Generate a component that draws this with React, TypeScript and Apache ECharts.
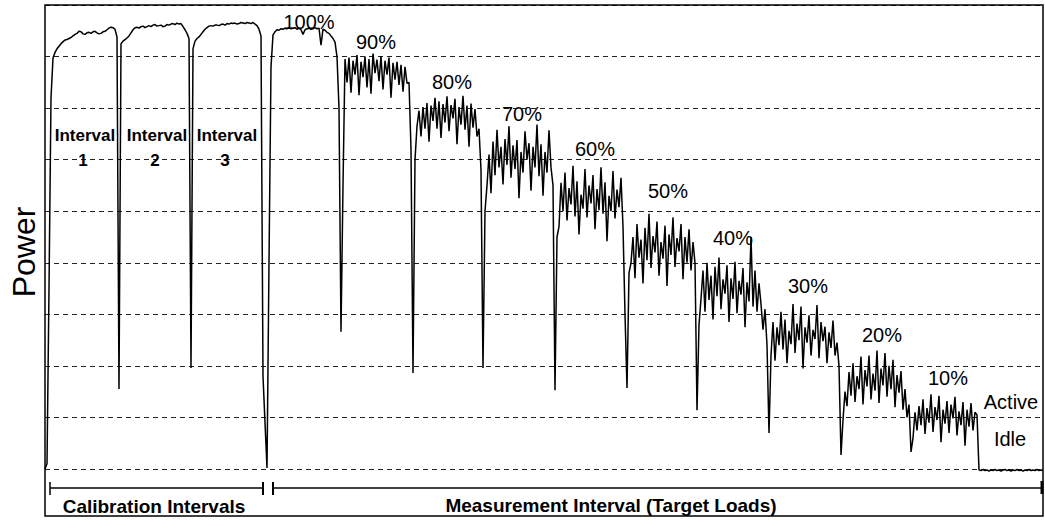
import React, { useEffect, useRef } from "react";
import * as echarts from "echarts";

// Power samples, one every SAMPLE_STEP time units
const SAMPLE_STEP = 2;

const interval1 = [0, 1, 35, 72, 79.7, 80.8, 81.5, 82, 82.5, 82.9, 83.2, 83.3, 83.5, 83.7, 84, 84.3, 84.5, 84.9, 84.8, 84.4, 84.3, 84.6, 84.7, 84.5, 84.8, 84.9, 84.6, 84.4, 84.5, 84.8, 84.9, 85.2, 85.5, 85.7, 85.6, 85.3, 83.8, 15.5];
const interval2 = [82.5, 83, 83.3, 83.6, 84, 84.6, 85.2, 85.6, 85.7, 85.5, 85.8, 85.9, 85.6, 85.8, 86, 85.8, 86.1, 86.2, 85.9, 86, 86.1, 85.8, 85.9, 86.2, 86.1, 86.3, 86.4, 86.2, 86.5, 86.3, 86.4, 85.8, 85.2, 84.5, 83.5, 19.6];
const interval3 = [81.5, 83, 83.5, 83.8, 84.3, 84.8, 85.3, 85.6, 85.9, 86, 85.9, 86.1, 86.1, 86, 86.2, 86.3, 86.1, 86.4, 86.3, 86.5, 86.4, 86.5, 86.3, 86.4, 86.6, 86.5, 86.4, 86.6, 86.5, 86.4, 86.6, 86.3, 86, 85.3, 84, 18, 9, 0.2];
const load100 = [40, 78, 84.2, 84.8, 85.2, 85.1, 85.4, 85.3, 85.5, 85.4, 85.6, 85.4, 85.5, 85.6, 85.3, 85.5, 85.2, 84.3, 85.2, 85.4, 85.5, 85.3, 85.4, 85.6, 85.4, 85.5, 82.2, 85.3, 85.1, 84.7, 84.5, 84, 83.5, 82.8, 80, 70, 26.6];
const load90 = [55, 79.5, 75, 79.8, 73, 79.2, 76.5, 80.3, 72.5, 79, 76, 80, 74, 79.5, 72.8, 80.6, 76.8, 79.4, 75.2, 80.1, 73.6, 79.2, 76.5, 79.8, 72, 78.8, 75.5, 79, 74.5, 78.4, 73.2, 78, 74.8, 75, 62, 18.6];
const load80 = [60, 66.5, 69.5, 64.5, 70.2, 66, 71, 63.5, 70.5, 67.5, 72, 66, 71.3, 64.2, 70.8, 67.2, 72.3, 65.5, 70.6, 68, 71.8, 63, 70.2, 66.8, 72.4, 65.8, 70.5, 62.5, 70.9, 66.2, 69.8, 64.5, 66, 58, 19.6, 50];
const load70 = [55, 61, 53.5, 63.5, 57, 65.8, 58.5, 62.5, 55.2, 64, 59, 66.5, 56.5, 62.8, 58.2, 63.8, 52.5, 61.5, 57.5, 65.5, 60, 63.2, 54, 62.5, 58.5, 66.8, 56.8, 63, 53, 61.5, 57.5, 65.7, 58.5, 55, 15.3];
const load60 = [45, 47, 55.5, 50, 57.5, 48.2, 54.5, 51.3, 58.8, 49, 55.8, 45.5, 53.2, 50.5, 58.2, 48.8, 55, 51.5, 57, 46.5, 54.3, 50.2, 58.5, 49.5, 55.6, 44.2, 53, 50, 57.8, 48.6, 54.2, 50.8, 56.5, 47, 30, 15.7];
const load50 = [38, 40, 45, 37, 47.5, 41, 44.5, 36, 46.8, 40.5, 49.5, 39, 45.2, 42, 48, 37.5, 44, 40.8, 47.2, 35.5, 45.5, 41.5, 48.8, 39.2, 44.8, 42.2, 47.5, 36.8, 45, 40, 46.5, 38.5, 44, 40, 11.4];
const load40 = [28, 33, 38.5, 30.5, 40, 32.8, 37.5, 29, 39.2, 33.5, 41, 31, 36.8, 34, 39.5, 28.5, 37, 33, 40.2, 30.2, 36.5, 33.8, 39, 27.5, 36.2, 32.5, 45, 31.5, 38.5, 30.5, 36, 32, 27, 31, 24, 7];
const load30 = [22, 28.5, 21, 27.5, 24, 30.5, 23.2, 29, 20.5, 26.8, 24.2, 32, 22.5, 28.2, 25, 31.5, 19.5, 27.5, 24.5, 29.8, 22, 27, 25.2, 31.8, 21.5, 28.5, 24.8, 27.6, 20.5, 26.5, 23.5, 28.8, 22, 24.5, 20, 2.7];
const load20 = [9.5, 15, 12.2, 18.8, 14.2, 20.5, 13, 18, 15.5, 21.8, 12.5, 19.2, 16, 22, 13.5, 18.5, 15.2, 23, 12.8, 19.5, 16.2, 22.5, 14, 20, 15.5, 21.2, 12, 18.2, 14.8, 19, 11.5, 15.5, 10, 12.5, 3.3];
const load10 = [6, 11, 7.5, 12.2, 8.5, 13.5, 6.8, 11.8, 9, 14.5, 7.2, 12, 9.5, 14.2, 5.2, 11.5, 8.8, 13.2, 7, 12.5, 9.8, 14, 6.5, 11.2, 8.5, 13, 4.5, 11.5, 8.2, 12.8, 7.5, 11, 10.5, -0.2];
const idle = [-0.3, -0.1, -0.3, -0.2, -0.4, -0.2, -0.3, -0.1, -0.3, -0.2, -0.4, -0.2, -0.1, -0.3, -0.2, -0.4, -0.2, -0.3, -0.1, -0.3, -0.2, -0.4, -0.2, -0.3, -0.1, -0.3, -0.2, -0.3, -0.1, -0.3, -0.2, -0.3];

const phases = [interval1, interval2, interval3, load100, load90, load80, load70, load60, load50, load40, load30, load20, load10, idle];

const Y_MIN = 0;
const Y_MAX = 90;
const Y_STEP = 10;
const X_MAX = 998;

const loadLabels = ["100%", "90%", "80%", "70%", "60%", "50%", "40%", "30%", "20%", "10%"];
const calibrationNumbers = ["1", "2", "3"];
const calibrationWord = "Interval";
const stateLabels = ["Active", "Idle"];
const bracketLabels = ["Calibration Intervals", "Measurement Interval (Target Loads)"];
const yTitle = "Power";

const FONT = '"Liberation Sans", Arial, Helvetica, sans-serif';

function txt(text: string, x: number, y: number, size: number, weight: string, extra: any = {}) {
  return {
    type: "text",
    x,
    y,
    z: 100,
    ...extra,
    style: {
      text,
      fontFamily: FONT,
      fontSize: size,
      fontWeight: weight,
      fill: "#000",
      align: "center",
      verticalAlign: "middle",
      textAlign: "center",
      textVerticalAlign: "middle",
    },
  };
}

function seg(x1: number, y1: number, x2: number, y2: number, w: number) {
  return {
    type: "line",
    z: 100,
    shape: { x1, y1, x2, y2 },
    style: { stroke: "#000", lineWidth: w },
  };
}

export default function App() {
  const ref = useRef<HTMLDivElement>(null);

  useEffect(() => {
    if (!ref.current) return;
    const chart = echarts.init(ref.current, undefined, { renderer: "svg" });

    const samples = phases.flat();
    const data = samples.map((v, i) => [i * SAMPLE_STEP, v]);

    const loadPos = [
      [309, 22], [376, 42], [452, 82], [522, 114], [595, 149],
      [668, 191], [733, 238], [808, 286], [882, 335], [948, 378],
    ];
    const calibX = [85, 157, 227];

    const graphics: any[] = [
      {
        type: "rect",
        z: 100,
        shape: { x: 45, y: 5, width: 998, height: 511 },
        style: { fill: "none", stroke: "#000", lineWidth: 1.5 },
      },
      txt(yTitle, 24, 252, 32, "normal", { rotation: Math.PI / 2 }),
      ...loadLabels.map((t, i) => txt(t, loadPos[i][0], loadPos[i][1], 20, "normal")),
      ...calibrationNumbers.map((n, i) => txt(calibrationWord, calibX[i], 135, 17, "bold")),
      ...calibrationNumbers.map((n, i) => txt(n, calibX[i] - 2, 160, 17, "bold")),
      txt(stateLabels[0], 1011, 402, 20, "normal"),
      txt(stateLabels[1], 1010, 439, 20, "normal"),
      // calibration bracket
      seg(50, 488, 263, 488, 1.5),
      seg(50, 482, 50, 495, 1.5),
      seg(263, 482, 263, 495, 2),
      // measurement bracket
      seg(273, 488, 1043, 488, 1.5),
      seg(273, 482, 273, 495, 2),
      seg(1042, 481, 1042, 494, 3),
      txt(bracketLabels[0], 154, 506, 19, "bold"),
      txt(bracketLabels[1], 611, 505, 19, "bold"),
    ];

    chart.setOption({
      animation: false,
      backgroundColor: "#fff",
      grid: { left: 45, right: 2, top: 5, bottom: 51, containLabel: false },
      xAxis: {
        type: "value",
        min: 0,
        max: X_MAX,
        axisLine: { show: false },
        axisTick: { show: false },
        axisLabel: { show: false },
        splitLine: { show: false },
      },
      yAxis: {
        type: "value",
        min: Y_MIN,
        max: Y_MAX,
        interval: Y_STEP,
        axisLine: { show: false },
        axisTick: { show: false },
        axisLabel: { show: false },
        splitLine: {
          show: true,
          lineStyle: { color: "#222", width: 1, type: [5, 4] },
        },
      },
      series: [
        {
          type: "line",
          data,
          symbol: "none",
          showSymbol: false,
          clip: false,
          silent: true,
          lineStyle: { color: "#000", width: 1.5 },
        },
      ],
      graphic: graphics,
    });

    return () => chart.dispose();
  }, []);

  return (
    <div
      ref={ref}
      style={{ position: "fixed", left: 0, top: 0, width: 1045, height: 520, background: "#fff" }}
    />
  );
}
